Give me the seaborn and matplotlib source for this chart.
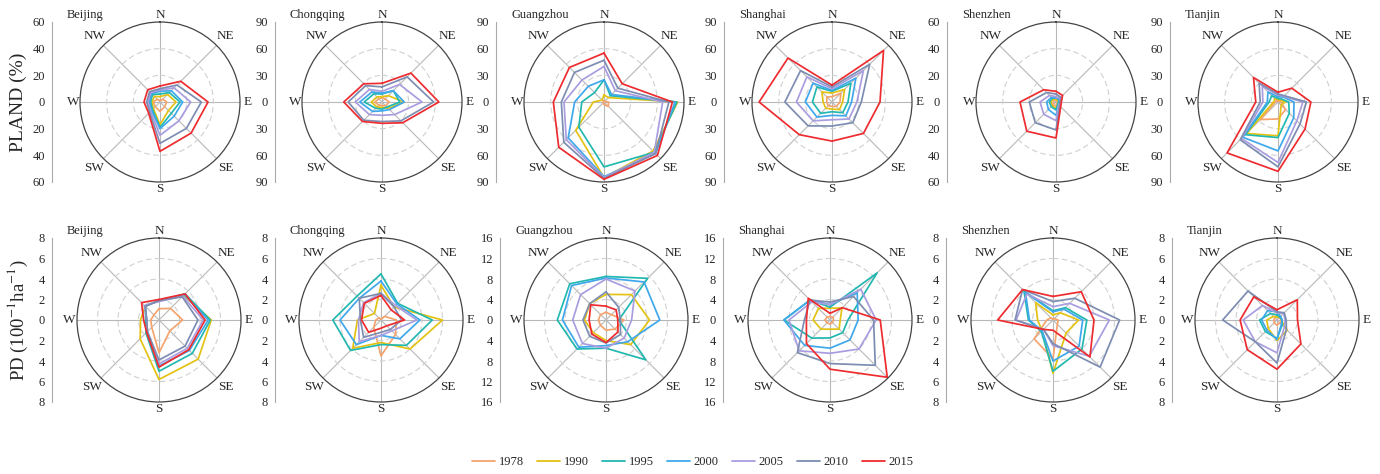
import numpy as np
import pandas as pd
import matplotlib
matplotlib.use("Agg")
import matplotlib.pyplot as plt
from matplotlib.lines import Line2D
import seaborn as sns

# compass directions, clockwise from north
directions = ["N", "NE", "E", "SE", "S", "SW", "W", "NW"]
years = ["1978", "1990", "1995", "2000", "2005", "2010", "2015"]
cities = ["Beijing", "Chongqing", "Guangzhou", "Shanghai", "Shenzhen", "Tianjin"]
colors = ["#F5A46E", "#E3C212", "#22B8B0", "#3FA8EC", "#A99DE0", "#7D8DB2", "#EE2B2F"]

# PLAND (%) - one row per year, one column per direction (N, NE, E, SE, S, SW, W, NW)
beijing_pland = [
    [1, 3, 5, 5, 7, 5, 5, 3],
    [4, 8, 12, 9, 17, 7, 6, 6],
    [6, 10, 15, 12, 19, 8, 7, 8],
    [8, 12, 17, 15, 20, 9, 8, 9],
    [9, 15, 23, 20, 25, 10, 9, 10],
    [10, 18, 31, 28, 31, 11, 10, 11],
    [12, 22, 36, 33, 37, 12, 12, 13],
]
chongqing_pland = [
    [5, 5, 8, 6, 4, 5, 8, 5],
    [6, 10, 25, 10, 6, 8, 12, 8],
    [9, 18, 20, 8, 8, 10, 20, 13],
    [10, 18, 25, 12, 10, 15, 25, 16],
    [12, 28, 45, 20, 15, 20, 30, 20],
    [17, 40, 58, 30, 22, 29, 38, 26],
    [21, 46, 64, 33, 24, 31, 43, 29],
]
guangzhou_pland = [
    [1, 1, 5, 7, 3, 1, 1, 1],
    [8, 7, 83, 78, 85, 45, 12, 3],
    [25, 10, 82, 80, 73, 40, 25, 15],
    [25, 12, 80, 82, 84, 57, 33, 25],
    [40, 18, 66, 80, 85, 60, 45, 35],
    [47, 22, 73, 82, 86, 64, 48, 47],
    [55, 29, 77, 85, 87, 72, 57, 55],
]
shanghai_pland = [
    [6, 14, 9, 7, 5, 6, 6, 8],
    [10, 20, 12, 12, 8, 10, 10, 16],
    [12, 30, 18, 17, 11, 18, 22, 24],
    [13, 38, 22, 22, 15, 24, 30, 30],
    [15, 50, 28, 27, 20, 30, 40, 40],
    [17, 60, 33, 33, 27, 38, 53, 50],
    [19, 82, 54, 50, 44, 52, 82, 70],
]
shenzhen_pland = [
    [2, 1, 2, 1, 3, 3, 2, 2],
    [2, 2, 2, 2, 5, 4, 4, 3],
    [3, 3, 2, 2, 6, 5, 5, 4],
    [3, 3, 3, 3, 10, 8, 7, 5],
    [4, 4, 3, 3, 14, 13, 12, 7],
    [6, 5, 3, 4, 21, 22, 20, 10],
    [8, 7, 4, 5, 27, 31, 27, 13],
]
tianjin_pland = [
    [1, 2, 3, 12, 19, 28, 3, 2],
    [3, 3, 8, 5, 38, 50, 5, 5],
    [4, 5, 12, 18, 40, 52, 10, 10],
    [6, 8, 18, 25, 55, 56, 12, 16],
    [8, 9, 28, 30, 68, 58, 17, 25],
    [9, 10, 32, 35, 73, 60, 20, 30],
    [11, 22, 37, 43, 78, 81, 25, 39],
]

# PD (100^-1 ha^-1)
beijing_pd = [
    [1.1, 1.6, 2.3, 1.5, 3.2, 1.0, 0.8, 0.7],
    [1.9, 3.4, 5.1, 5.4, 5.8, 2.6, 1.8, 1.9],
    [1.9, 3.6, 5.0, 4.6, 5.0, 1.8, 1.3, 1.9],
    [1.9, 3.5, 4.8, 4.2, 4.5, 1.6, 1.2, 1.9],
    [1.8, 3.3, 4.3, 3.9, 4.3, 1.6, 1.2, 2.0],
    [1.9, 3.2, 3.8, 3.6, 3.9, 1.6, 1.2, 1.9],
    [2.0, 3.6, 4.5, 4.1, 4.6, 1.7, 1.5, 2.4],
]
chongqing_pd = [
    [0.1, 0.5, 1.5, 2.0, 3.5, 1.0, 0.5, 0.3],
    [3.4, 1.8, 6.0, 4.0, 2.2, 3.9, 2.3, 0.9],
    [4.5, 2.3, 5.0, 3.5, 2.4, 4.2, 4.7, 3.3],
    [3.8, 2.2, 3.8, 2.6, 1.5, 3.4, 4.0, 3.0],
    [2.6, 2.0, 3.5, 1.5, 1.5, 3.0, 2.2, 2.4],
    [2.6, 1.8, 2.0, 1.3, 1.2, 2.4, 2.0, 3.0],
    [2.4, 1.4, 2.3, 0.8, 0.8, 1.7, 1.9, 2.3],
]
guangzhou_pd = [
    [1.5, 1.5, 3.5, 2.5, 2.0, 1.5, 1.5, 1.5],
    [5.0, 7.0, 8.5, 6.8, 4.0, 3.5, 4.2, 4.5],
    [8.5, 11.5, 2.5, 11.0, 5.5, 8.0, 9.5, 10.0],
    [8.2, 10.5, 10.5, 6.0, 5.0, 7.5, 8.5, 9.5],
    [8.0, 8.0, 5.0, 5.0, 5.5, 6.5, 6.5, 7.0],
    [5.5, 3.5, 2.8, 4.0, 4.5, 4.5, 4.5, 4.5],
    [2.7, 2.8, 2.3, 3.3, 4.4, 3.9, 3.3, 4.2],
]
shanghai_pd = [
    [0.7, 0.8, 0.7, 0.7, 0.8, 0.8, 1.0, 0.8],
    [2.3, 3.3, 2.0, 2.5, 1.8, 2.5, 3.3, 3.2],
    [2.5, 13.0, 3.5, 3.5, 3.5, 5.0, 9.0, 5.5],
    [3.0, 7.5, 5.5, 5.5, 5.5, 7.0, 9.0, 5.5],
    [3.0, 8.5, 9.0, 8.0, 6.5, 8.5, 8.0, 5.0],
    [3.5, 6.5, 8.5, 12.5, 8.5, 9.0, 5.0, 5.5],
    [1.3, 3.4, 9.8, 15.8, 9.6, 6.5, 4.6, 6.0],
]
shenzhen_pd = [
    [0.1, 0.2, 0.5, 0.6, 3.8, 2.6, 0.6, 0.3],
    [0.5, 1.0, 2.5, 1.8, 5.2, 1.5, 1.5, 2.4],
    [0.9, 1.7, 3.3, 4.0, 5.0, 1.6, 2.4, 4.0],
    [0.8, 1.5, 2.9, 3.6, 4.0, 1.5, 2.3, 3.8],
    [1.3, 2.3, 5.5, 5.0, 2.5, 1.3, 3.6, 3.6],
    [1.8, 3.0, 6.5, 6.5, 2.3, 1.3, 3.7, 4.2],
    [2.3, 3.9, 4.0, 5.1, 1.0, 1.3, 5.4, 4.2],
]
tianjin_pd = [
    [0.3, 0.3, 0.5, 0.4, 0.5, 0.4, 0.3, 0.3],
    [0.3, 0.5, 0.4, 1.4, 2.0, 1.2, 1.0, 0.5],
    [0.5, 0.4, 0.5, 0.7, 1.8, 1.6, 1.7, 0.9],
    [0.8, 0.5, 0.5, 0.6, 1.9, 1.4, 1.5, 1.3],
    [0.7, 0.9, 0.8, 1.0, 3.2, 3.0, 3.3, 2.0],
    [0.8, 1.0, 0.9, 1.3, 4.2, 3.0, 5.3, 4.0],
    [1.0, 2.8, 2.0, 3.3, 4.8, 4.1, 3.6, 3.2],
]

pland_data = [beijing_pland, chongqing_pland, guangzhou_pland,
              shanghai_pland, shenzhen_pland, tianjin_pland]
pd_data = [beijing_pd, chongqing_pd, guangzhou_pd,
           shanghai_pd, shenzhen_pd, tianjin_pd]
pland_max = [60, 90, 90, 90, 60, 90]
pd_max = [8, 8, 16, 16, 8, 8]

# figure size in pixels and panel placement (pixels from top-left)
W, H = 1380, 474
row1_cx = [160, 382, 604, 832, 1056, 1278]
row2_cx = [159, 381, 606, 830, 1053, 1277]
row1_ax = [52, 275, 496, 724, 947, 1170]
row2_ax = [52, 275, 500, 723, 946, 1172]

sns.set_style("white")
plt.rcParams["font.family"] = ["Liberation Serif", "DejaVu Serif"]
plt.rcParams["mathtext.fontset"] = "stix"

fig = plt.figure(figsize=(W / 100, H / 100), dpi=100)


def draw_panel(values, rmax, nsteps, cx, cy, rad, axis_x, city):
    # polar radar chart
    ax = fig.add_axes([(cx - rad) / W, 1 - (cy + rad) / H, 2 * rad / W, 2 * rad / H],
                      projection="polar")
    rows = []
    for year, vals in zip(years, values):
        closed = list(vals) + [vals[0]]
        for k, v in enumerate(closed):
            rows.append({"theta": k * np.pi / 4, "value": v, "year": year})
    df = pd.DataFrame(rows)
    sns.lineplot(data=df, x="theta", y="value", hue="year", hue_order=years,
                 palette=colors, estimator=None, sort=False, linewidth=1.25,
                 legend=False, ax=ax)
    ax.set_theta_zero_location("N")
    ax.set_theta_direction(-1)
    ax.set_ylim(0, rmax)
    ax.set_xlabel("")
    ax.set_ylabel("")
    ax.set_thetagrids(np.arange(0, 360, 45), labels=[""] * 8)
    grid_r = [rmax * i / nsteps for i in range(1, nsteps)]
    ax.set_rgrids(grid_r, labels=[""] * len(grid_r))
    ax.xaxis.grid(True, color="#b8b8b8", linewidth=0.8, linestyle="-")
    ax.yaxis.grid(True, color="#d0d0d0", linewidth=0.8, linestyle=(0, (5, 3)))
    ax.spines["polar"].set_color("#444444")
    ax.spines["polar"].set_linewidth(0.9)
    ax.set_facecolor("none")
    for k, d in enumerate(directions):
        f = 1.09 if k % 2 == 0 else 1.16
        ax.text(k * np.pi / 4, rmax * f, d, ha="center", va="center",
                fontsize=9.5, clip_on=False)

    # left-hand scale
    lax = fig.add_axes([axis_x / W, 1 - (cy + rad) / H, 0.0001, 2 * rad / H])
    lax.set_ylim(-rmax, rmax)
    ticks = np.linspace(-rmax, rmax, 2 * nsteps + 1)
    lax.set_yticks(ticks)
    lax.set_yticklabels([f"{abs(t):g}" for t in ticks])
    lax.set_xticks([])
    for s in ["top", "right", "bottom"]:
        lax.spines[s].set_visible(False)
    lax.spines["left"].set_color("#aaaaaa")
    lax.spines["left"].set_linewidth(0.8)
    lax.tick_params(axis="y", length=3, color="#aaaaaa", labelsize=9, pad=2)
    lax.set_facecolor("none")

    fig.text((axis_x + 15) / W, 1 - (cy - rad - 7) / H, city, fontsize=9,
             ha="left", va="center")


for i, city in enumerate(cities):
    draw_panel(pland_data[i], pland_max[i], 3, row1_cx[i], 102, 80, row1_ax[i], city)
    draw_panel(pd_data[i], pd_max[i], 4, row2_cx[i], 320, 82, row2_ax[i], city)

fig.text(18 / W, 1 - 102 / H, "PLAND (%)", rotation=90, fontsize=14,
         ha="center", va="center")
fig.text(18 / W, 1 - 320 / H, "PD (100$^{-1}$ha$^{-1}$)", rotation=90, fontsize=13.5,
         ha="center", va="center")

handles = [Line2D([0], [0], color=c, lw=1.3) for c in colors]
fig.legend(handles, years, loc="center", bbox_to_anchor=(693 / W, 1 - 462 / H),
           ncol=7, frameon=False, fontsize=9, handlelength=1.8,
           columnspacing=1.1, handletextpad=0.3)

fig.savefig("out.png", dpi=100)
